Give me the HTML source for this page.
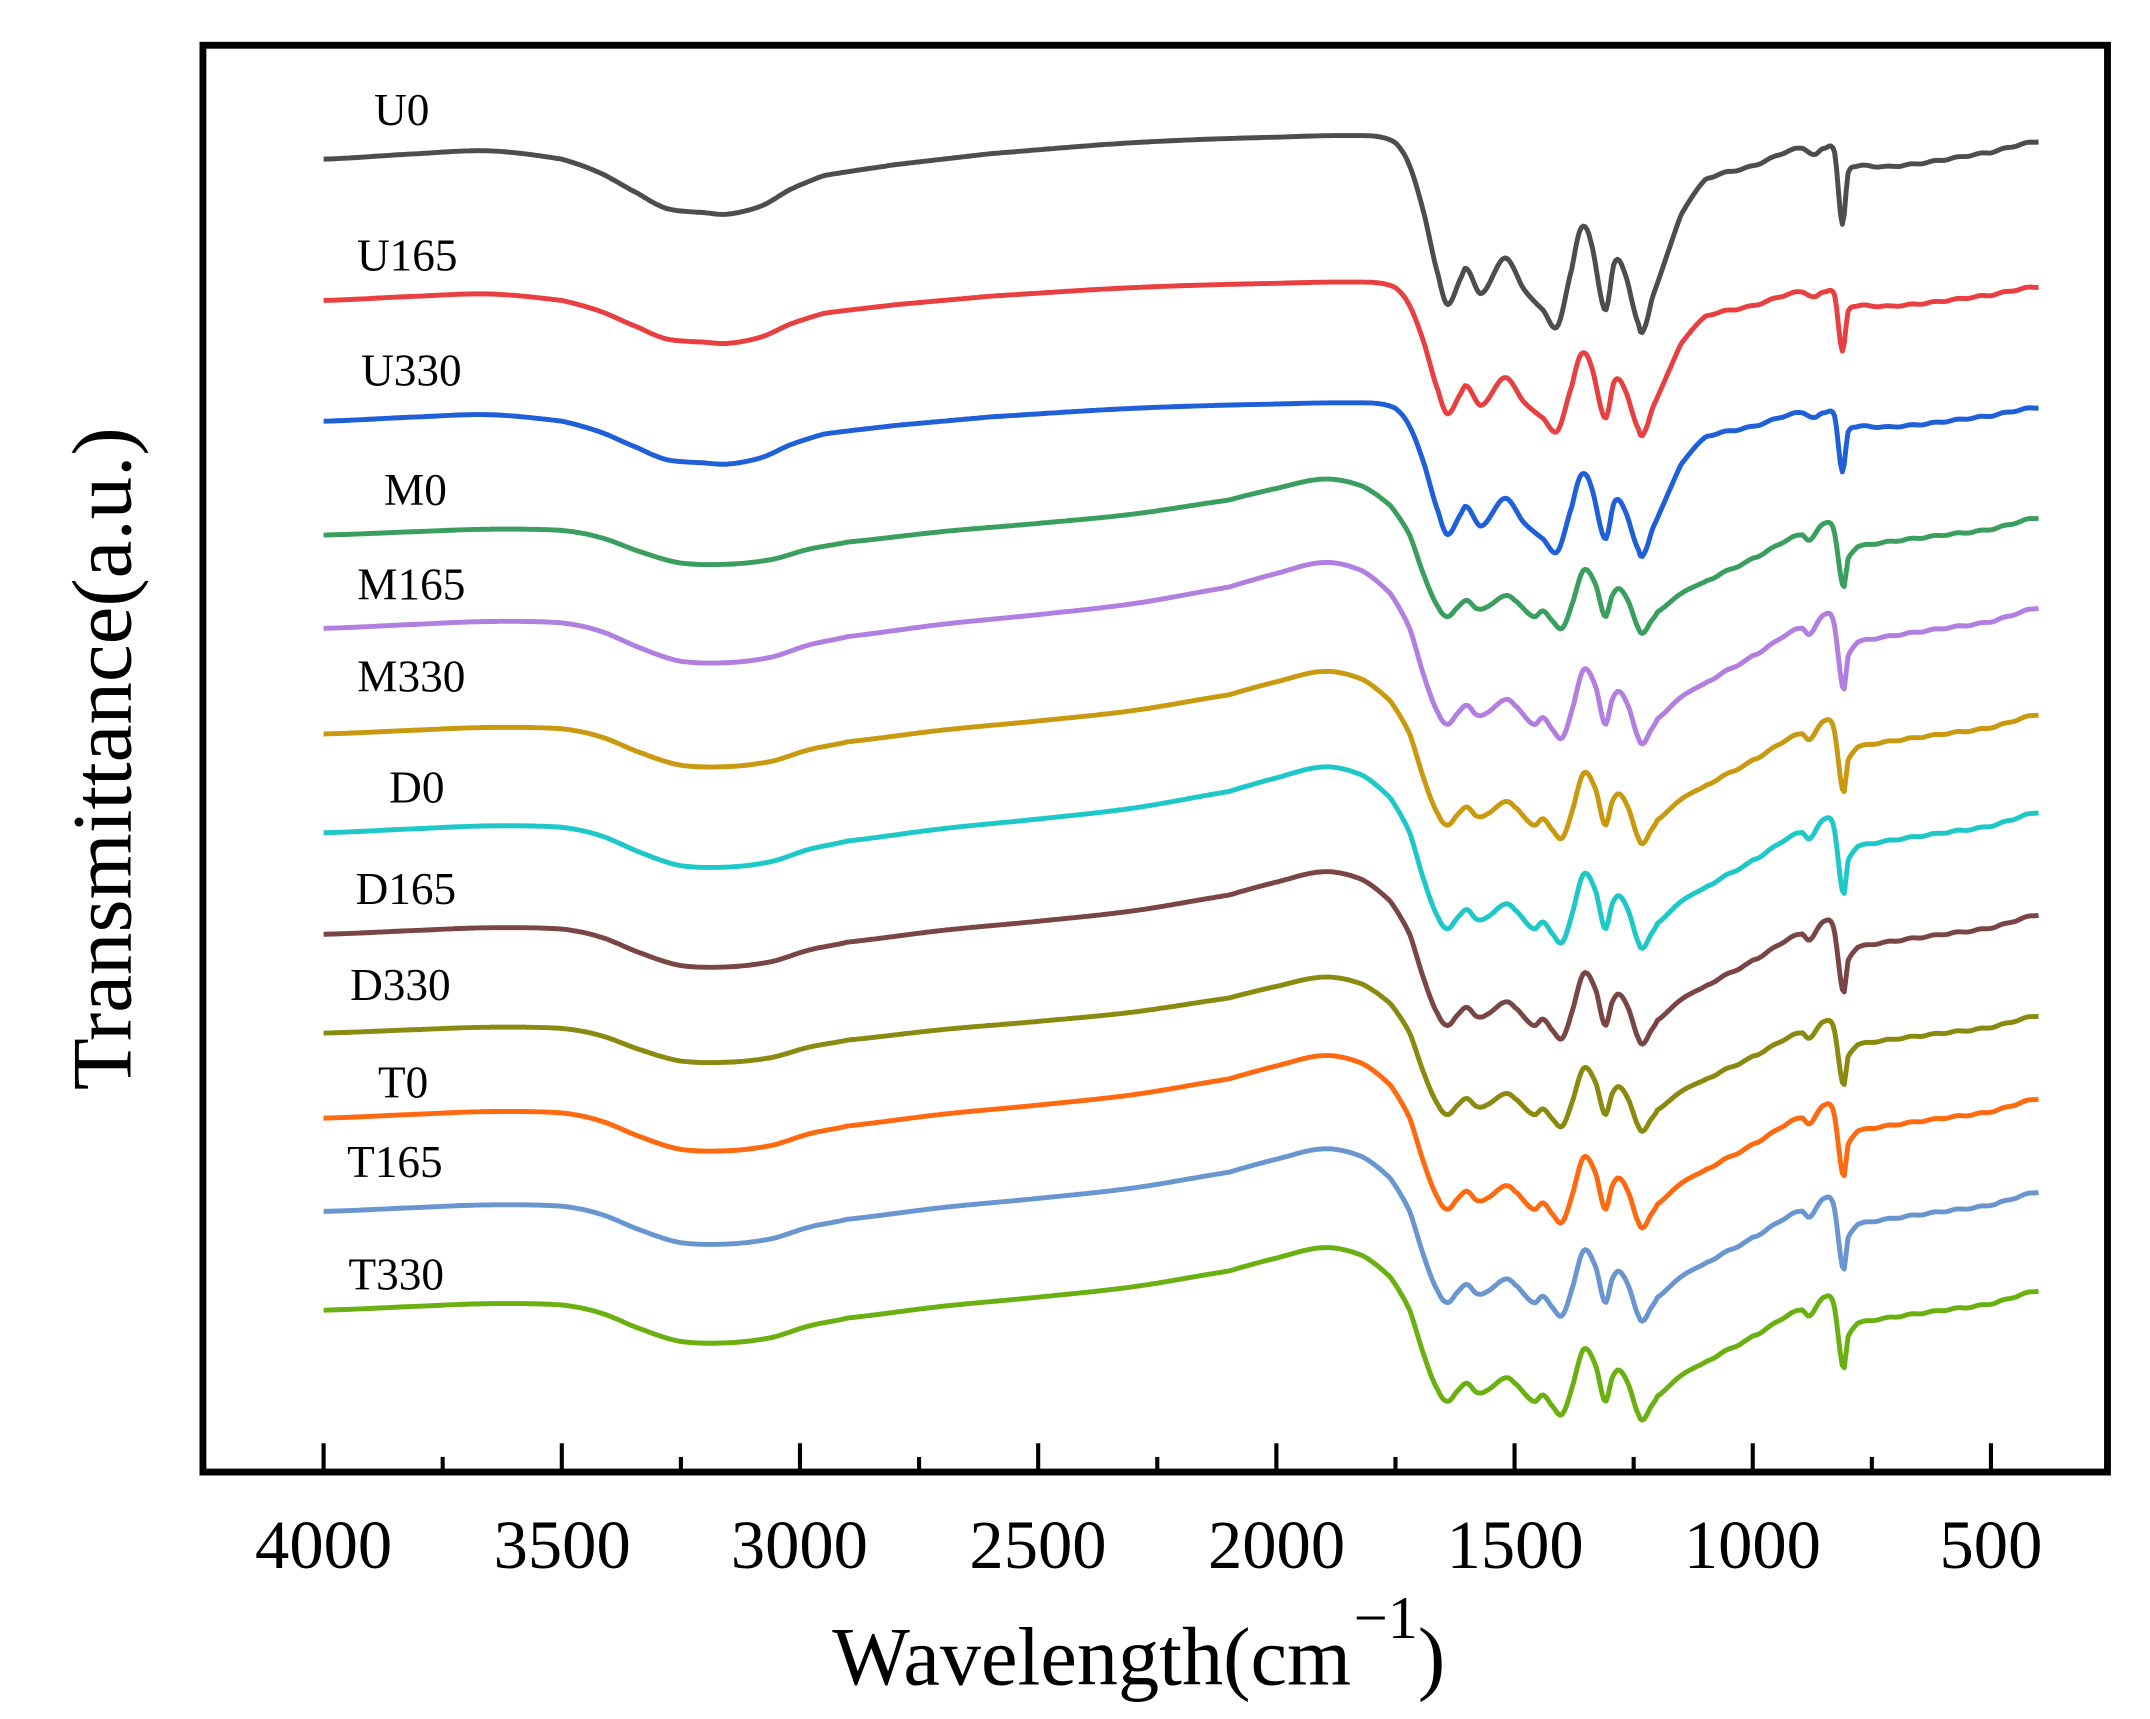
<!DOCTYPE html>
<html><head><meta charset="utf-8"><style>
html,body{margin:0;padding:0;background:#fff;}
svg{display:block;}
text{font-family:"Liberation Serif",serif;fill:#000;}
</style></head><body>
<svg id="s" width="2150" height="1719" viewBox="0 0 1568 1253" preserveAspectRatio="none" xmlns="http://www.w3.org/2000/svg">
<rect x="148" y="33" width="1389" height="1040" fill="none" stroke="#000" stroke-width="5"/>
<g id="ticks" stroke="#000" stroke-width="3"></g>
<g font-size="50" text-anchor="middle">
<text x="236" y="1143">4000</text><text x="410" y="1143">3500</text><text x="583" y="1143">3000</text><text x="757" y="1143">2500</text><text x="931" y="1143">2000</text><text x="1105" y="1143">1500</text><text x="1278" y="1143">1000</text><text x="1452" y="1143">500</text>
</g>
<text x="607" y="1228" font-size="60">Wavelength(cm<tspan font-size="44" dy="-34" dx="2">−1</tspan><tspan dy="34">)</tspan></text>
<text transform="translate(95,553) rotate(-90)" font-size="62" text-anchor="middle">Transmittance(a.u.)</text>
<g id="series" fill="none" stroke-width="3.6" stroke-linejoin="round"></g>
<g id="labels" font-size="33" text-anchor="middle"></g>
</svg>
<script>
var X=function(w){return 236+(4000-w)*(1216/3500);};
var tk=document.getElementById('ticks'),h='';
for(var w=4000;w>=500;w-=250){var x=X(w);h+='<line x1="'+x+'" y1="1071" x2="'+x+'" y2="'+(w%500==0?1052:1062)+'"/>';}
tk.innerHTML=h;
var UT=[[4000,0],[3800,-4],[3650,-6],[3500,0],[3420,10],[3340,25],[3280,36],[3200,39],[3150,40],[3080,34],[3020,22],[2950,12],[2800,4],[2600,-4],[2300,-12],[2000,-16],[1800,-17],[1750,-12],[1720,5],[1690,40],[1660,85],[1640,106],[1610,85],[1600,80],[1570,98],[1520,72],[1480,95],[1440,110],[1410,122],[1380,80],[1360,50],[1340,60],[1310,110],[1290,75],[1270,82],[1240,120],[1230,125],[1210,100],[1180,70],[1150,40],[1100,15],[1000,5],[900,-8],[870,-3],[850,-8],[828,-5],[812,48],[800,10],[780,5],[700,5],[500,-5],[400,-13]];
var MT=[[4000,0],[3800,-3],[3650,-5],[3500,-4],[3420,2],[3330,15],[3250,24],[3150,25],[3060,21],[2980,12],[2900,6],[2700,-3],[2500,-10],[2300,-18],[2100,-30],[2000,-40],[1900,-48],[1820,-42],[1760,-25],[1720,0],[1690,35],[1660,62],[1640,70],[1620,62],[1600,56],[1580,63],[1560,62],[1520,52],[1500,56],[1460,70],[1440,65],[1420,74],[1400,80],[1380,60],[1355,30],[1330,42],[1310,70],[1295,52],[1280,46],[1260,58],[1240,80],[1230,84],[1215,75],[1200,66],[1150,50],[1100,40],[1050,30],[1000,20],[900,0],[880,4],[850,-10],[830,-5],[810,45],[800,20],[780,10],[700,5],[600,0],[500,-5],[400,-15]];
function f(T,w){var n=T.length;for(var i=0;i<n-1;i++){if(w<=T[i][0]&&w>=T[i+1][0]){var t=(T[i][0]-w)/(T[i][0]-T[i+1][0]);
var p0=T[Math.max(i-1,0)][1],p1=T[i][1],p2=T[i+1][1],p3=T[Math.min(i+2,n-1)][1];
var t2=t*t,t3=t2*t;return 0.5*((2*p1)+(-p0+p2)*t+(2*p0-5*p1+4*p2-p3)*t2+(-p0+3*p1-3*p2+p3)*t3);}}return 0;}
var S=[["U0","#4d4d4d",116,UT,1,293,80],["U165","#e84040",219,UT,0.78,297,186],["U330","#1f5fd8",307,UT,0.78,300,270],
["M0","#3a9e5e",390,MT,0.85,303,357],["M165","#b07fe0",458,MT,1,300,426],["M330","#c99a10",535,MT,0.95,300,493],
["D0","#1ec8c8",607,MT,1,304,574],["D165","#7a4545",681,MT,0.95,296,648],["D330","#8a8a10",753,MT,0.85,292,718],
["T0","#ff6a10",815,MT,0.95,294,789],["T165","#6a96d0",883,MT,0.95,288,847],["T330","#6ab010",955,MT,0.95,289,929]];
var g='',l='';
S.forEach(function(s){var p='';for(var w=4000;w>=400;w-=4){var y=s[2]+s[4]*f(s[3],w)+(w<1100?Math.sin(w*1.7)*0.5:0);p+=(p?'L':'M')+X(w).toFixed(1)+' '+y.toFixed(1);}
g+='<path d="'+p+'" stroke="'+s[1]+'"/>';l+='<text x="'+s[5]+'" y="'+(s[6]+11)+'">'+s[0]+'</text>';});
document.getElementById('series').innerHTML=g;document.getElementById('labels').innerHTML=l;
</script>
</body></html>
